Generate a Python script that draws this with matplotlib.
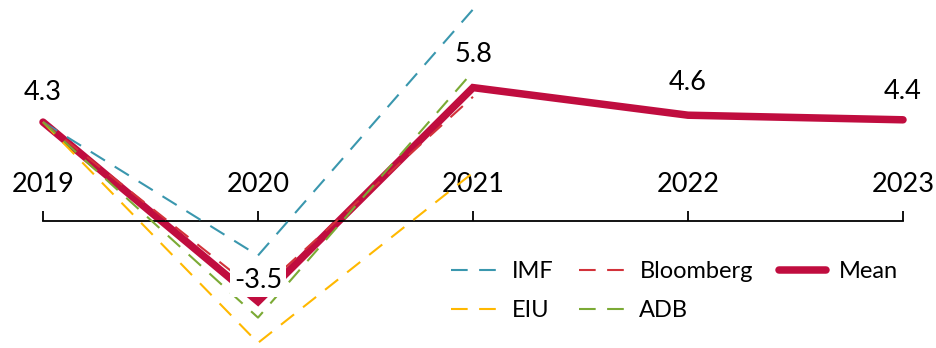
import matplotlib
matplotlib.use("Agg")
import matplotlib.pyplot as plt

years = [2019, 2020, 2021, 2022, 2023]
year_labels = ["2019", "2020", "2021", "2022", "2023"]
imf = [4.3, -1.5, 9.2]
eiu = [4.3, -5.3, 2.1]
bloomberg = [4.3, -3.1, 5.4]
adb = [4.3, -4.2, 6.5]
mean = [4.3, -3.5, 5.8, 4.6, 4.4]
mean_labels = ["4.3", "-3.5", "5.8", "4.6", "4.4"]

plt.rcParams['font.family'] = ['Lato', 'DejaVu Sans']

fig = plt.figure(figsize=(9.36, 3.48), dpi=100)
ax = fig.add_axes([0, 0, 1, 1])
ax.set_xlim(2019 - 43 / 215, 2023 + 33 / 215)
ax.set_ylim(-127 / 23, 221 / 23)

ax.plot(years, mean, color="#C00D3F", lw=5.4, solid_capstyle="round",
        solid_joinstyle="miter", zorder=2, label="Mean")
dash = (8, 5.5)
ax.plot(years[:3], imf, color="#3A97AE", lw=1.5, dashes=dash, zorder=3, label="IMF")
ax.plot(years[:3], eiu, color="#FFB800", lw=1.5, dashes=dash, zorder=3, label="EIU")
ax.plot(years[:3], bloomberg, color="#D2323A", lw=1.5, dashes=dash, zorder=3, label="Bloomberg")
ax.plot(years[:3], adb, color="#7BAA35", lw=1.5, dashes=dash, zorder=3, label="ADB")

offsets = [30, 21, 33, 33, 28]
for x, v, t, off in zip(years, mean, mean_labels, offsets):
    kw = {}
    if v < 0:
        kw = dict(bbox=dict(facecolor="white", edgecolor="none", pad=2.5))
    ax.annotate(t, (x, v), xytext=(0, off), textcoords="offset pixels",
                ha="center", va="center", fontsize=19.5, color="black", zorder=5, **kw)

for s in ["top", "left", "right"]:
    ax.spines[s].set_visible(False)
ax.spines["bottom"].set_position(("data", 0))
ax.spines["bottom"].set_linewidth(1.3)
ax.spines["bottom"].set_bounds(2019, 2023)
ax.set_yticks([])
ax.set_xticks(years, year_labels)
ax.tick_params(axis="x", direction="in", length=7, width=1.3, pad=-35, labelsize=19.5)

handles, labels = ax.get_legend_handles_labels()
order = ["IMF", "EIU", "Bloomberg", "ADB", "Mean"]
hmap = dict(zip(labels, handles))
leg = fig.legend([hmap[k] for k in order], order, ncol=3, frameon=False,
                 fontsize=17, handlelength=2.0, handletextpad=0.55,
                 columnspacing=1.1, labelspacing=0.75,
                 loc="upper left", bbox_to_anchor=(430 / 936, 1 - 240 / 348))

fig.savefig("out.png", dpi=100)
